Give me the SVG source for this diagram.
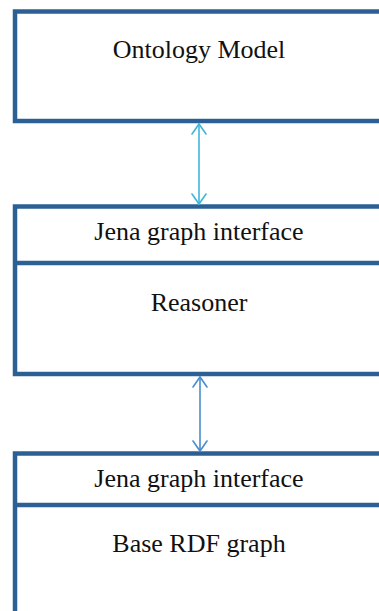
<svg xmlns="http://www.w3.org/2000/svg" width="379" height="611" viewBox="0 0 379 611">
  <style>
    .box { fill: #ffffff; stroke: #2c6094; stroke-width: 4.5; }
    .div { stroke: #2c6094; stroke-width: 4.5; fill: none; }
    .lbl { font-family: "Liberation Serif", "Times New Roman", serif; font-size: 26px; fill: #111111; text-anchor: middle; }
    .link { fill: none; stroke-width: 1.6; }
    .head { fill: none; stroke-width: 1.6; stroke-linecap: round; }
  </style>
  <rect width="379" height="611" fill="#ffffff"/>

  <g id="ontology-model">
    <rect class="box" x="15" y="11.5" width="380" height="109.5"/>
    <text class="lbl" x="199" y="58">Ontology Model</text>
  </g>

  <g id="reasoner">
    <rect class="box" x="15" y="206.5" width="380" height="167.5"/>
    <line class="div" x1="15" y1="263" x2="395" y2="263"/>
    <text class="lbl" x="199" y="240">Jena graph interface</text>
    <text class="lbl" x="199" y="311">Reasoner</text>
  </g>

  <g id="base-rdf-graph">
    <rect class="box" x="15" y="453.5" width="380" height="180"/>
    <line class="div" x1="15" y1="505" x2="395" y2="505"/>
    <text class="lbl" x="199" y="487">Jena graph interface</text>
    <text class="lbl" x="199" y="552">Base RDF graph</text>
  </g>

  <g id="connectors">
    <g stroke="#3fb6d8">
      <line class="link" x1="199" y1="124" x2="199" y2="204"/>
      <polyline class="head" points="192,134 199,124 206,134"/>
      <polyline class="head" points="192,194 199,204 206,194"/>
    </g>
    <g stroke="#4a8ccc">
      <line class="link" x1="200" y1="377" x2="200" y2="451"/>
      <polyline class="head" points="193,387 200,377 207,387"/>
      <polyline class="head" points="193,441 200,451 207,441"/>
    </g>
  </g>
</svg>
